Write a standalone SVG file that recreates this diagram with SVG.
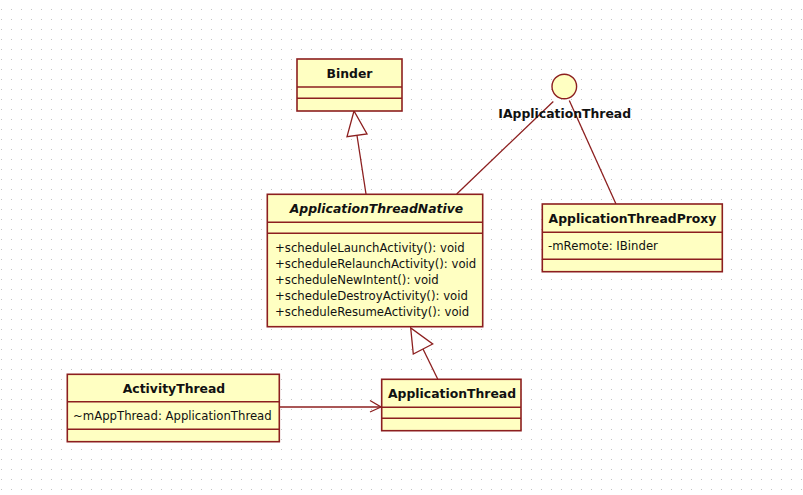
<svg xmlns="http://www.w3.org/2000/svg" width="803" height="495" viewBox="0 0 803 495">
<defs>
<pattern id="grid" x="0" y="0" width="10" height="10" patternUnits="userSpaceOnUse">
<rect x="1" y="9" width="1" height="1" fill="#c4c4c4"/>
</pattern>
<style>
.box{fill:#ffffc2;stroke:#8c1f1f;stroke-width:1.6}
.div{stroke:#8c1f1f;stroke-width:1.4;fill:none}
.conn{stroke:#8c1f1f;stroke-width:1.3;fill:none}
.head{stroke:#8c1f1f;stroke-width:1.3;fill:#ffffff}
.title{font-family:"DejaVu Sans",Verdana,sans-serif;font-weight:bold;font-size:12.4px;fill:#111;text-anchor:middle}
.ital{font-style:italic}
.mem{font-family:"DejaVu Sans",Verdana,sans-serif;font-size:11.7px;fill:#111}
</style>
</defs>
<rect x="0" y="0" width="803" height="495" fill="#ffffff"/>
<rect x="0" y="0" width="803" height="495" fill="url(#grid)"/>

<g id="connectors">
<!-- ApplicationThreadNative -> Binder generalization -->
<line class="conn" x1="366" y1="194" x2="357" y2="135.5"/>
<polygon class="head" points="354,111 347,136.7 367,134"/>
<!-- ApplicationThread -> ApplicationThreadNative generalization -->
<line class="conn" x1="437.7" y1="379" x2="423" y2="349"/>
<polygon class="head" points="410.7,328 413.3,354 432.7,344"/>
<!-- interface realization lines -->
<line class="conn" x1="456.7" y1="194" x2="553.3" y2="101.5"/>
<line class="conn" x1="569.3" y1="100.5" x2="616" y2="204"/>
<!-- ActivityThread -> ApplicationThread association -->
<polyline class="conn" points="279,407 332,407 381,407"/>
<polyline class="conn" points="370,400.5 381,407 370,412"/>
</g>

<g id="Binder">
<rect class="box" x="297" y="59" width="105" height="52"/>
<line class="div" x1="297" y1="87" x2="402" y2="87"/>
<line class="div" x1="297" y1="98.3" x2="402" y2="98.3"/>
<text class="title" x="349.5" y="77.5">Binder</text>
</g>

<g id="IApplicationThread">
<circle cx="564.3" cy="86.5" r="12.3" fill="#ffffc2" stroke="#8c1f1f" stroke-width="1.4"/>
<text class="title" x="564.7" y="118.3">IApplicationThread</text>
</g>

<g id="ApplicationThreadNative">
<rect class="box" x="267.3" y="194.3" width="215.4" height="132.4"/>
<line class="div" x1="267.3" y1="222.3" x2="482.7" y2="222.3"/>
<line class="div" x1="267.3" y1="233.3" x2="482.7" y2="233.3"/>
<text class="title ital" x="376.5" y="212.6">ApplicationThreadNative</text>
<text class="mem" x="275" y="251.6">+scheduleLaunchActivity(): void</text>
<text class="mem" x="275" y="267.7">+scheduleRelaunchActivity(): void</text>
<text class="mem" x="275" y="283.8">+scheduleNewIntent(): void</text>
<text class="mem" x="275" y="299.9">+scheduleDestroyActivity(): void</text>
<text class="mem" x="275" y="316">+scheduleResumeActivity(): void</text>
</g>

<g id="ApplicationThreadProxy">
<rect class="box" x="542.3" y="204" width="180" height="67.7"/>
<line class="div" x1="542.3" y1="232.3" x2="722.3" y2="232.3"/>
<line class="div" x1="542.3" y1="259.3" x2="722.3" y2="259.3"/>
<text class="title" x="632.5" y="223">ApplicationThreadProxy</text>
<text class="mem" x="548" y="250">-mRemote: IBinder</text>
</g>

<g id="ActivityThread">
<rect class="box" x="67.3" y="374.3" width="212" height="67.4"/>
<line class="div" x1="67.3" y1="401.7" x2="279.3" y2="401.7"/>
<line class="div" x1="67.3" y1="429.3" x2="279.3" y2="429.3"/>
<text class="title" x="174" y="393">ActivityThread</text>
<text class="mem" x="73" y="420">~mAppThread: ApplicationThread</text>
</g>

<g id="ApplicationThread">
<rect class="box" x="381.7" y="379.3" width="139.3" height="51.4"/>
<line class="div" x1="381.7" y1="407.3" x2="521" y2="407.3"/>
<line class="div" x1="381.7" y1="418.3" x2="521" y2="418.3"/>
<text class="title" x="452" y="397.5">ApplicationThread</text>
</g>
</svg>
